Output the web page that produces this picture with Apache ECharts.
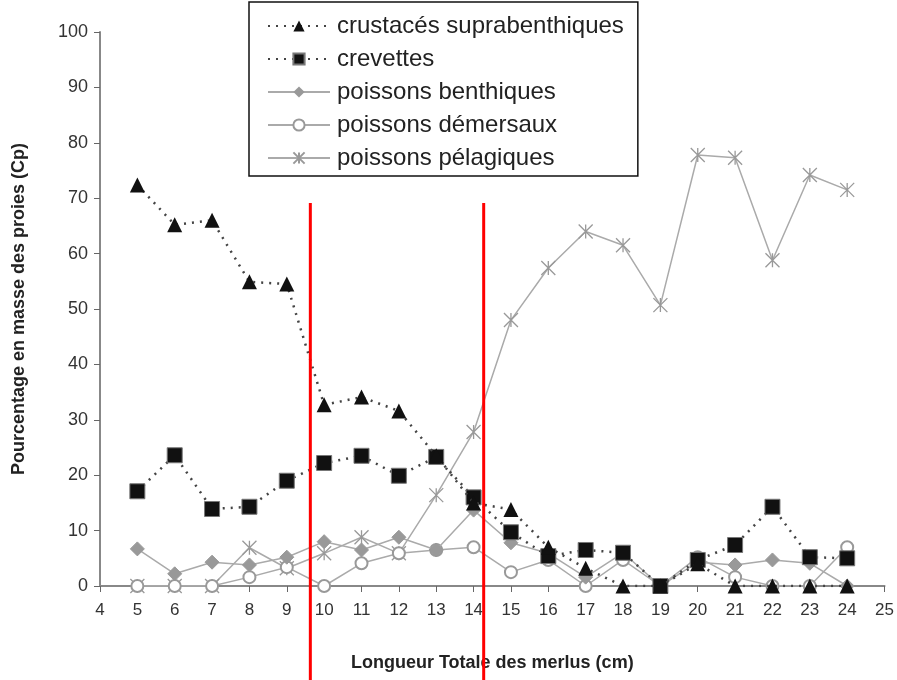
<!DOCTYPE html>
<html>
<head>
<meta charset="utf-8">
<script src="https://cdn.jsdelivr.net/npm/echarts@6/dist/echarts.min.js"></script>
<style>
  html, body { margin: 0; padding: 0; background: #fff; }
  #chart { width: 897px; height: 680px; }
</style>
</head>
<body>
<div id="chart"></div>
<script>
// lengths of hake (cm) and prey mass percentages
const lengths = [5, 6, 7, 8, 9, 10, 11, 12, 13, 14, 15, 16, 17, 18, 19, 20, 21, 22, 23, 24];
const crustaces = [72.4, 65.2, 66, 54.9, 54.5, 32.7, 34.1, 31.6, 23.5, 15, 13.8, 7, 3.2, 0, 0, 4, 0, 0, 0, 0];
const crevettes = [17.1, 23.6, 13.9, 14.3, 19, 22.2, 23.5, 19.9, 23.3, 16, 9.7, 5.4, 6.5, 6, 0, 4.7, 7.4, 14.3, 5.2, 5];
const benthiques = [6.7, 2.2, 4.3, 3.8, 5.2, 8, 6.5, 8.8, 6.5, 13.7, 7.8, 5.9, 1.6, 6, 0, 4.3, 3.8, 4.7, 4.1, 0];
const demersaux = [0, 0, 0, 1.6, 3.4, 0, 4.1, 5.9, 6.5, 7, 2.5, 4.7, 0, 4.7, 0, 5.2, 1.6, 0, 0, 7];
const pelagiques = [0, 0, 0, 6.9, 3.2, 5.9, 8.8, 5.9, 16.4, 27.8, 48, 57.4, 64, 61.5, 50.7, 77.8, 77.3, 58.8, 74.2, 71.5];
const seriesNames = ["crustacés suprabenthiques", "crevettes", "poissons benthiques", "poissons démersaux", "poissons pélagiques"];
// red annotation lines (x in cm)
const redLines = [9.63, 14.27];

const font = "Liberation Sans, Arial, sans-serif";
const star = "path://M0,0 L10,10 M10,0 L0,10 M5,0 L5,10";

function pairs(values) {
  return lengths.map((x, i) => [x, values[i]]);
}

let chart = echarts.init(document.getElementById("chart"), null, { renderer: "canvas" });

let option = {
  animation: false,
  backgroundColor: "#fff",
  textStyle: { fontFamily: font },
  grid: { left: 100, right: 10, top: 32, bottom: 94 },
  legend: {
    orient: "vertical",
    left: 249,
    top: 2,
    padding: [12, 14, 6, 18],
    borderColor: "#111",
    borderWidth: 1.5,
    itemWidth: 62,
    itemHeight: 14,
    itemGap: 9,
    textStyle: { fontSize: 24, color: "#222", fontFamily: font, padding: [0, 0, 0, 2] },
    data: seriesNames
  },
  xAxis: {
    type: "value",
    min: 4,
    max: 25,
    interval: 1,
    name: "Longueur Totale des merlus (cm)",
    nameLocation: "middle",
    nameGap: 68,
    nameTextStyle: { fontSize: 18, fontWeight: "bold", color: "#222" },
    axisLine: { lineStyle: { color: "#888", width: 2 } },
    axisTick: { show: true, length: 6, lineStyle: { color: "#666" } },
    axisLabel: { fontSize: 17, color: "#333", margin: 16 },
    splitLine: { show: false }
  },
  yAxis: {
    type: "value",
    min: 0,
    max: 100,
    interval: 10,
    name: "Pourcentage en masse des proies (Cp)",
    nameLocation: "middle",
    nameGap: 72,
    nameTextStyle: { fontSize: 18, fontWeight: "bold", color: "#222" },
    axisLine: { show: true, lineStyle: { color: "#888", width: 2 } },
    axisTick: { show: true, length: 6, lineStyle: { color: "#666" } },
    axisLabel: { fontSize: 18, color: "#333", margin: 12 },
    splitLine: { show: false }
  },
  series: [
    {
      name: seriesNames[4],
      type: "line",
      data: pairs(pelagiques),
      symbol: star,
      symbolSize: 14,
      itemStyle: { color: "rgba(0,0,0,0)", borderColor: "#999", borderWidth: 1.3 },
      lineStyle: { color: "#aaa", width: 1.5 },
      z: 2
    },
    {
      name: seriesNames[3],
      type: "line",
      data: pairs(demersaux),
      symbol: "emptyCircle",
      symbolSize: 12,
      itemStyle: { color: "#999", borderColor: "#999", borderWidth: 1.3 },
      lineStyle: { color: "#aaa", width: 1.5 },
      z: 3
    },
    {
      name: seriesNames[2],
      type: "line",
      data: pairs(benthiques),
      symbol: "diamond",
      symbolSize: 14,
      itemStyle: { color: "#999", borderColor: "#999" },
      lineStyle: { color: "#aaa", width: 1.5 },
      z: 4
    },
    {
      name: seriesNames[1],
      type: "line",
      data: pairs(crevettes),
      symbol: "rect",
      symbolSize: 15,
      itemStyle: { color: "#111", borderColor: "#777", borderWidth: 1 },
      lineStyle: { color: "#444", width: 2.5, type: [2, 6] },
      z: 5
    },
    {
      name: seriesNames[0],
      type: "line",
      data: pairs(crustaces),
      symbol: "triangle",
      symbolSize: 15,
      itemStyle: { color: "#111" },
      lineStyle: { color: "#444", width: 2.5, type: [2, 6] },
      z: 6
    }
  ]
};

chart.setOption(option);

// red vertical annotation lines, running from the plot down past the axis title
let bottom = chart.getHeight();
chart.setOption({
  graphic: redLines.map(x => {
    let px = chart.convertToPixel({ xAxisIndex: 0 }, x);
    return {
      type: "line",
      z: 100,
      shape: { x1: px, y1: 203, x2: px, y2: bottom },
      style: { stroke: "#f00", lineWidth: 3 }
    };
  })
});
</script>
</body>
</html>
